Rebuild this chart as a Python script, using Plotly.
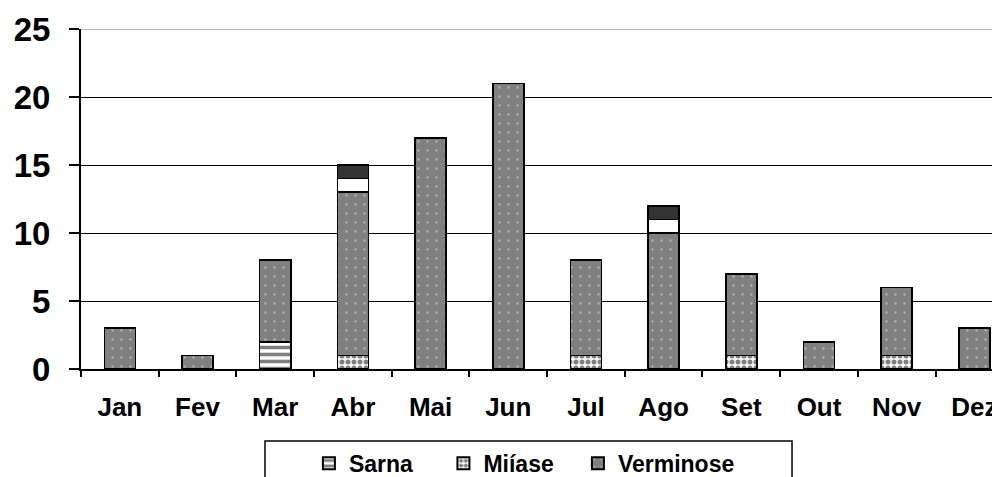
import plotly.graph_objects as go

months = ["Jan", "Fev", "Mar", "Abr", "Mai", "Jun", "Jul", "Ago", "Set", "Out", "Nov", "Dez"]
sarna = [0, 0, 2, 0, 0, 0, 0, 0, 0, 0, 0, 0]
miiase = [0, 0, 0, 1, 0, 0, 1, 0, 1, 0, 1, 0]
verminose = [3, 1, 6, 12, 17, 21, 7, 10, 6, 2, 5, 3]
outros_claro = [0, 0, 0, 1, 0, 0, 0, 1, 0, 0, 0, 0]
outros_escuro = [0, 0, 0, 1, 0, 0, 0, 1, 0, 0, 0, 0]

FONT = "Liberation Sans, Arial, sans-serif"
line = dict(color="black", width=1.6)

fig = go.Figure()
fig.add_trace(go.Bar(
    x=months, y=sarna, name="<b>Sarna</b>&nbsp;&nbsp;&nbsp;&nbsp;",
    marker=dict(color="white", line=line,
                pattern=dict(shape="-", fgcolor="#000000", bgcolor="white", size=7, solidity=0.5)),
))
fig.add_trace(go.Bar(
    x=months, y=miiase, name="<b>Miíase</b>&nbsp;&nbsp;&nbsp;",
    marker=dict(color="white", line=line,
                pattern=dict(shape=".", fgcolor="#000000", bgcolor="white", size=6, solidity=0.55)),
))
fig.add_trace(go.Bar(
    x=months, y=verminose, name="<b>Verminose</b>",
    marker=dict(color="#808080", line=line,
                pattern=dict(shape=".", fgcolor="#f0f0f0", bgcolor="#808080", size=9, solidity=0.05)),
))
fig.add_trace(go.Bar(
    x=months, y=outros_claro, name="Outros", showlegend=False,
    marker=dict(color="white", line=line),
))
fig.add_trace(go.Bar(
    x=months, y=outros_escuro, name="Outros 2", showlegend=False,
    marker=dict(color="#333333", line=line),
))

# page body has an 8px margin: figure is sized/offset to compensate
fig.update_layout(
    barmode="stack",
    bargap=0.6,
    width=992, height=469,
    margin=dict(l=73, r=0, t=21, b=108, autoexpand=False),
    plot_bgcolor="white", paper_bgcolor="white",
    font=dict(family=FONT, color="black"),
    showlegend=True,
    legend=dict(
        orientation="h", x=0.248, xanchor="left", y=-0.214, yanchor="top",
        font=dict(family=FONT, size=23, color="black"),
        borderwidth=0, bgcolor="rgba(0,0,0,0)",
        itemsizing="constant", traceorder="normal",
    ),
    shapes=[
        dict(type="line", xref="paper", yref="y", x0=0, x1=1, y0=25, y1=25,
             line=dict(color="#a0a0a0", width=1.5), layer="above"),
        dict(type="rect", xref="paper", yref="paper", x0=0.2002, x1=0.7737, y0=-0.2118, y1=-0.40,
             line=dict(color="black", width=1.5), fillcolor="rgba(0,0,0,0)", layer="below"),
    ],
)

fig.update_xaxes(
    type="category", range=[-0.5, 11.33],
    showline=True, linecolor="black", linewidth=2,
    ticks="outside", ticklen=6, tickwidth=2, tickcolor="black", tickson="boundaries",
    tickfont=dict(family=FONT, size=26, color="black", weight="bold"),
    ticklabelstandoff=14, showgrid=False,
)
fig.update_yaxes(
    range=[0, 25], dtick=5,
    showline=True, linecolor="black", linewidth=2,
    ticks="outside", ticklen=10, tickwidth=1.5, tickcolor="black",
    showgrid=True, gridcolor="black", gridwidth=1.2,
    zeroline=False,
    tickfont=dict(family=FONT, size=33, color="black", weight="bold"),
    ticklabelstandoff=12,
)

fig.write_html("out.html")
